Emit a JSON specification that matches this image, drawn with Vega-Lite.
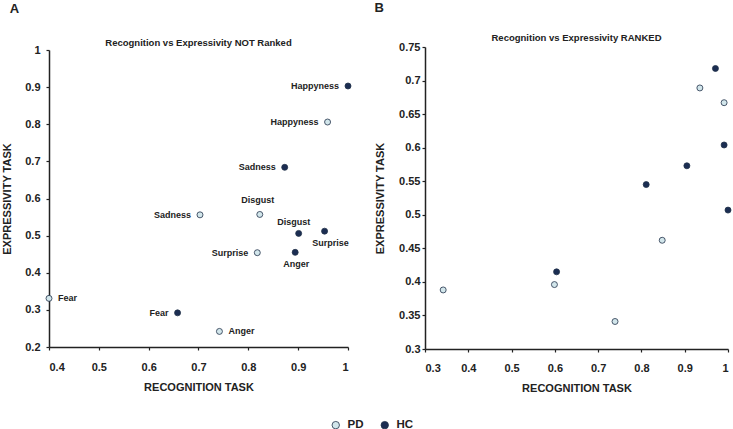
{
  "$schema": "https://vega.github.io/schema/vega-lite/v6.json",
  "padding": {"left": 1, "top": 1, "right": 0, "bottom": 0},
  "datasets": {
    "notRanked": [
      {"emotion": "Happyness", "group": "HC", "recognition": 1.0, "expressivity": 0.903},
      {"emotion": "Sadness", "group": "HC", "recognition": 0.873, "expressivity": 0.684},
      {"emotion": "Disgust", "group": "HC", "recognition": 0.901, "expressivity": 0.506},
      {"emotion": "Surprise", "group": "HC", "recognition": 0.953, "expressivity": 0.512},
      {"emotion": "Anger", "group": "HC", "recognition": 0.894, "expressivity": 0.455},
      {"emotion": "Fear", "group": "HC", "recognition": 0.658, "expressivity": 0.292},
      {"emotion": "Happyness", "group": "PD", "recognition": 0.959, "expressivity": 0.806},
      {"emotion": "Sadness", "group": "PD", "recognition": 0.703, "expressivity": 0.556},
      {"emotion": "Disgust", "group": "PD", "recognition": 0.823, "expressivity": 0.557},
      {"emotion": "Surprise", "group": "PD", "recognition": 0.818, "expressivity": 0.454},
      {"emotion": "Fear", "group": "PD", "recognition": 0.4, "expressivity": 0.331},
      {"emotion": "Anger", "group": "PD", "recognition": 0.742, "expressivity": 0.242}
    ],
    "ranked": [
      {"group": "PD", "recognition": 0.935, "expressivity": 0.689},
      {"group": "PD", "recognition": 0.991, "expressivity": 0.667},
      {"group": "PD", "recognition": 0.848, "expressivity": 0.462},
      {"group": "PD", "recognition": 0.599, "expressivity": 0.396},
      {"group": "PD", "recognition": 0.342, "expressivity": 0.388},
      {"group": "PD", "recognition": 0.739, "expressivity": 0.341},
      {"group": "HC", "recognition": 0.971, "expressivity": 0.718},
      {"group": "HC", "recognition": 0.991, "expressivity": 0.604},
      {"group": "HC", "recognition": 0.905, "expressivity": 0.573},
      {"group": "HC", "recognition": 0.811, "expressivity": 0.545},
      {"group": "HC", "recognition": 1.0, "expressivity": 0.507},
      {"group": "HC", "recognition": 0.604, "expressivity": 0.415}
    ]
  },
  "config": {
    "font": "Liberation Sans",
    "view": {"stroke": null},
    "axis": {
      "grid": false,
      "domainColor": "#222222",
      "domainWidth": 1.5,
      "tickColor": "#222222",
      "tickWidth": 1.2,
      "tickSize": 3,
      "labelFont": "Liberation Sans",
      "labelFontWeight": "bold",
      "labelFontSize": 11,
      "labelColor": "#222222",
      "titleFont": "Liberation Sans",
      "titleFontWeight": "bold",
      "titleFontSize": 11,
      "titleColor": "#222222"
    },
    "axisX": {"labelPadding": 11, "titlePadding": 9},
    "axisY": {"labelPadding": 6, "titlePadding": 12},
    "title": {"font": "Liberation Sans", "fontWeight": "bold", "color": "#222222"},
    "legend": {
      "labelFont": "Liberation Sans",
      "labelFontWeight": "bold",
      "labelFontSize": 11.5,
      "labelColor": "#222222"
    }
  },
  "spacing": 21,
  "resolve": {"scale": {"x": "independent", "y": "independent", "color": "shared"}, "legend": {"color": "shared"}},
  "hconcat": [
    {
      "title": {"text": "A", "anchor": "start", "fontSize": 13, "offset": 22, "dx": 8},
      "vconcat": [
        {
          "title": {"text": "Recognition vs Expressivity NOT Ranked", "fontSize": 9.5, "offset": -3},
          "width": 299,
          "height": 300,
          "data": {"name": "notRanked"},
          "encoding": {
            "x": {"field": "recognition", "type": "quantitative", "title": "RECOGNITION TASK",
              "scale": {"domain": [0.4, 1], "nice": false, "zero": false},
              "axis": {"values": [0.4, 0.5, 0.6, 0.7, 0.8, 0.9, 1], "format": "~g"}},
            "y": {"field": "expressivity", "type": "quantitative", "title": "EXPRESSIVITY TASK",
              "scale": {"domain": [0.2, 1], "nice": false, "zero": false, "range": [300, 3]},
              "axis": {"values": [0.2, 0.3, 0.4, 0.5, 0.6, 0.7, 0.8, 0.9, 1], "format": "~g"}}
          },
          "layer": [
            {
              "mark": {"type": "point", "filled": true, "size": 36, "opacity": 1, "stroke": "#22324a", "strokeWidth": 0.8},
              "encoding": {
                "color": {"field": "group", "type": "nominal", "title": null,
                  "scale": {"domain": ["PD", "HC"], "range": ["#d2e6eb", "#1b2d52"]},
                  "legend": {"orient": "none", "legendX": 281, "legendY": 372, "direction": "horizontal", "symbolSize": 55, "symbolStrokeColor": "#22324a", "symbolStrokeWidth": 0.8, "columnPadding": 15, "labelOffset": 6}}
              }
            },
            {
              "transform": [{"filter": "(datum.emotion === 'Happyness') || (datum.emotion === 'Sadness') || (datum.emotion === 'Surprise' && datum.group === 'PD') || (datum.emotion === 'Fear' && datum.group === 'HC')"}],
              "mark": {"type": "text", "align": "right", "baseline": "middle", "dx": -9, "fontSize": 9, "fontWeight": "bold", "color": "#222222"},
              "encoding": {"text": {"field": "emotion"}}
            },
            {
              "transform": [{"filter": "(datum.group === 'PD') && (datum.emotion === 'Fear' || datum.emotion === 'Anger')"}],
              "mark": {"type": "text", "align": "left", "baseline": "middle", "dx": 9, "fontSize": 9, "fontWeight": "bold", "color": "#222222"},
              "encoding": {"text": {"field": "emotion"}}
            },
            {
              "transform": [{"filter": "datum.emotion === 'Disgust' && datum.group === 'PD'"}],
              "mark": {"type": "text", "align": "center", "baseline": "middle", "dx": -2, "dy": -14, "fontSize": 9, "fontWeight": "bold", "color": "#222222"},
              "encoding": {"text": {"field": "emotion"}}
            },
            {
              "transform": [{"filter": "datum.emotion === 'Disgust' && datum.group === 'HC'"}],
              "mark": {"type": "text", "align": "center", "baseline": "middle", "dx": -5, "dy": -11, "fontSize": 9, "fontWeight": "bold", "color": "#222222"},
              "encoding": {"text": {"field": "emotion"}}
            },
            {
              "transform": [{"filter": "datum.emotion === 'Anger' && datum.group === 'HC'"}],
              "mark": {"type": "text", "align": "center", "baseline": "middle", "dx": 1, "dy": 12, "fontSize": 9, "fontWeight": "bold", "color": "#222222"},
              "encoding": {"text": {"field": "emotion"}}
            },
            {
              "transform": [{"filter": "datum.emotion === 'Surprise' && datum.group === 'HC'"}],
              "mark": {"type": "text", "align": "center", "baseline": "middle", "dx": 6, "dy": 12, "fontSize": 9, "fontWeight": "bold", "color": "#222222"},
              "encoding": {"text": {"field": "emotion"}}
            }
          ]
        }
      ]
    },
    {
      "title": {"text": "B", "anchor": "start", "fontSize": 13, "offset": 18, "dx": 0},
      "vconcat": [
        {
          "title": {"text": "Recognition vs Expressivity RANKED", "fontSize": 9.5, "offset": -1},
          "width": 303,
          "height": 302,
          "data": {"name": "ranked"},
          "mark": {"type": "point", "filled": true, "size": 36, "opacity": 1, "stroke": "#22324a", "strokeWidth": 0.8},
          "encoding": {
            "x": {"field": "recognition", "type": "quantitative", "title": "RECOGNITION TASK",
              "scale": {"domain": [0.3, 1], "nice": false, "zero": false},
              "axis": {"values": [0.3, 0.4, 0.5, 0.6, 0.7, 0.8, 0.9, 1], "format": "~g", "labelPadding": 10}},
            "y": {"field": "expressivity", "type": "quantitative", "title": "EXPRESSIVITY TASK",
              "scale": {"domain": [0.3, 0.75], "nice": false, "zero": false},
              "axis": {"values": [0.3, 0.35, 0.4, 0.45, 0.5, 0.55, 0.6, 0.65, 0.7, 0.75], "format": "~g", "labelPadding": 2, "titlePadding": 13}},
            "color": {"field": "group", "type": "nominal", "title": null,
              "scale": {"domain": ["PD", "HC"], "range": ["#d2e6eb", "#1b2d52"]}}
          }
        }
      ]
    }
  ]
}
